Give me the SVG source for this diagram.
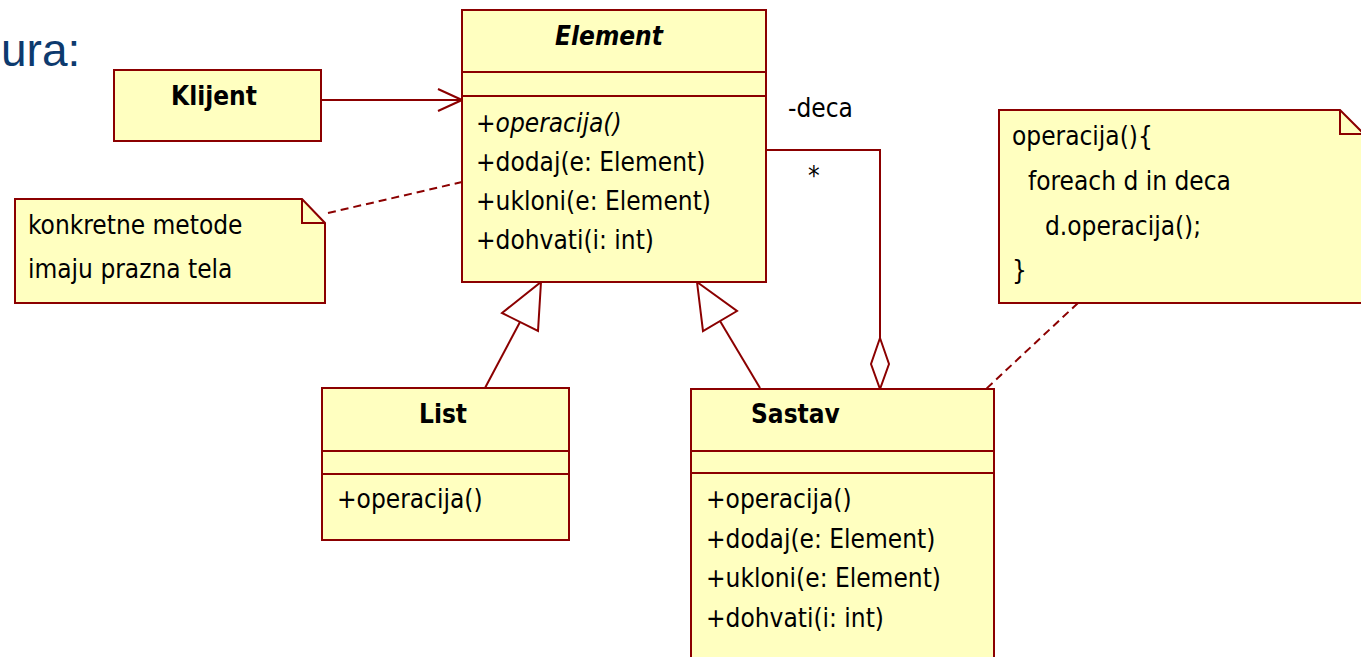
<svg xmlns="http://www.w3.org/2000/svg" width="1361" height="657" viewBox="0 0 1361 657">
  <style>
    .box { fill: #ffffc0; stroke: #8b0000; stroke-width: 2; }
    .line { fill: none; stroke: #8b0000; stroke-width: 2; }
    .dash { fill: none; stroke: #8b0000; stroke-width: 2; stroke-dasharray: 8 5; }
    .hollow { fill: #ffffff; stroke: #8b0000; stroke-width: 2; }
    text { font-family: "DejaVu Sans Condensed", "DejaVu Sans", sans-serif; font-size: 26px; fill: #000000; }
    .title { font-weight: bold; }
    .abstract { font-weight: bold; font-style: italic; }
    .ital { font-style: italic; }
    .heading { font-family: "Liberation Sans", Arial, sans-serif; font-size: 46px; fill: #0d3a6e; }
  </style>
  <defs>
    <marker id="open-arrow" viewBox="0 0 26 24" refX="25" refY="12" markerWidth="26" markerHeight="24" markerUnits="userSpaceOnUse" orient="auto">
      <path d="M1,1 L25,12 L1,23" fill="none" stroke="#8b0000" stroke-width="2"/>
    </marker>
  </defs>

  <rect width="1361" height="657" fill="#ffffff"/>
  <text class="heading" x="1" y="66">ura:</text>

  <!-- connectors -->
  <g id="connectors">
    <!-- Klijent uses Element -->
    <line class="line" x1="321" y1="100" x2="462" y2="100" marker-end="url(#open-arrow)"/>
    <!-- note links -->
    <line class="dash" x1="328" y1="213" x2="462" y2="182"/>
    <line class="dash" x1="1078" y1="303" x2="986" y2="389"/>
    <!-- List generalizes Element -->
    <line class="line" x1="485" y1="388" x2="520" y2="322"/>
    <polygon class="hollow" points="541,282 538,331 502,313"/>
    <!-- Sastav generalizes Element -->
    <line class="line" x1="760" y1="388" x2="720" y2="321"/>
    <polygon class="hollow" points="697,282 737,311 703,331"/>
    <!-- aggregation: Sastav holds children -->
    <polyline class="line" points="766,150 880,150 880,338"/>
    <polygon class="hollow" points="880,338 889,364 880,389 871,364"/>
    <text x="788" y="117">-deca</text>
    <text x="808" y="185">*</text>
  </g>

  <g id="element">
    <rect class="box" x="462" y="10" width="304" height="272"/>
    <line class="line" x1="462" y1="72" x2="766" y2="72"/>
    <line class="line" x1="462" y1="96" x2="766" y2="96"/>
    <text class="abstract" x="609" y="45" text-anchor="middle">Element</text>
    <text class="ital" x="476" y="132">+operacija()</text>
    <text x="476" y="171">+dodaj(e: Element)</text>
    <text x="476" y="210">+ukloni(e: Element)</text>
    <text x="476" y="249">+dohvati(i: int)</text>
  </g>

  <g id="klijent">
    <rect class="box" x="114" y="70" width="207" height="71"/>
    <text class="title" x="214" y="105" text-anchor="middle">Klijent</text>
  </g>

  <g id="note-empty-bodies">
    <path class="box" d="M15,199 L302,199 L325,223 L325,303 L15,303 Z"/>
    <path class="line" d="M302,199 L302,223 L325,223"/>
    <text x="28" y="234">konkretne metode</text>
    <text x="28" y="278">imaju prazna tela</text>
  </g>

  <g id="note-operacija">
    <path class="box" d="M999,110 L1340,110 L1364,134 L1364,303 L999,303 Z"/>
    <path class="line" d="M1340,110 L1340,134 L1364,134"/>
    <text x="1012" y="145">operacija(){</text>
    <text x="1028" y="190">foreach d in deca</text>
    <text x="1045" y="235">d.operacija();</text>
    <text x="1012" y="279">}</text>
  </g>

  <g id="list">
    <rect class="box" x="322" y="388" width="247" height="152"/>
    <line class="line" x1="322" y1="451" x2="569" y2="451"/>
    <line class="line" x1="322" y1="474" x2="569" y2="474"/>
    <text class="title" x="443" y="423" text-anchor="middle">List</text>
    <text x="337" y="508">+operacija()</text>
  </g>

  <g id="sastav">
    <rect class="box" x="691" y="389" width="303" height="290"/>
    <line class="line" x1="691" y1="451" x2="994" y2="451"/>
    <line class="line" x1="691" y1="473" x2="994" y2="473"/>
    <text class="title" x="751" y="423">Sastav</text>
    <text x="706" y="508">+operacija()</text>
    <text x="706" y="548">+dodaj(e: Element)</text>
    <text x="706" y="587">+ukloni(e: Element)</text>
    <text x="706" y="627">+dohvati(i: int)</text>
  </g>
</svg>
